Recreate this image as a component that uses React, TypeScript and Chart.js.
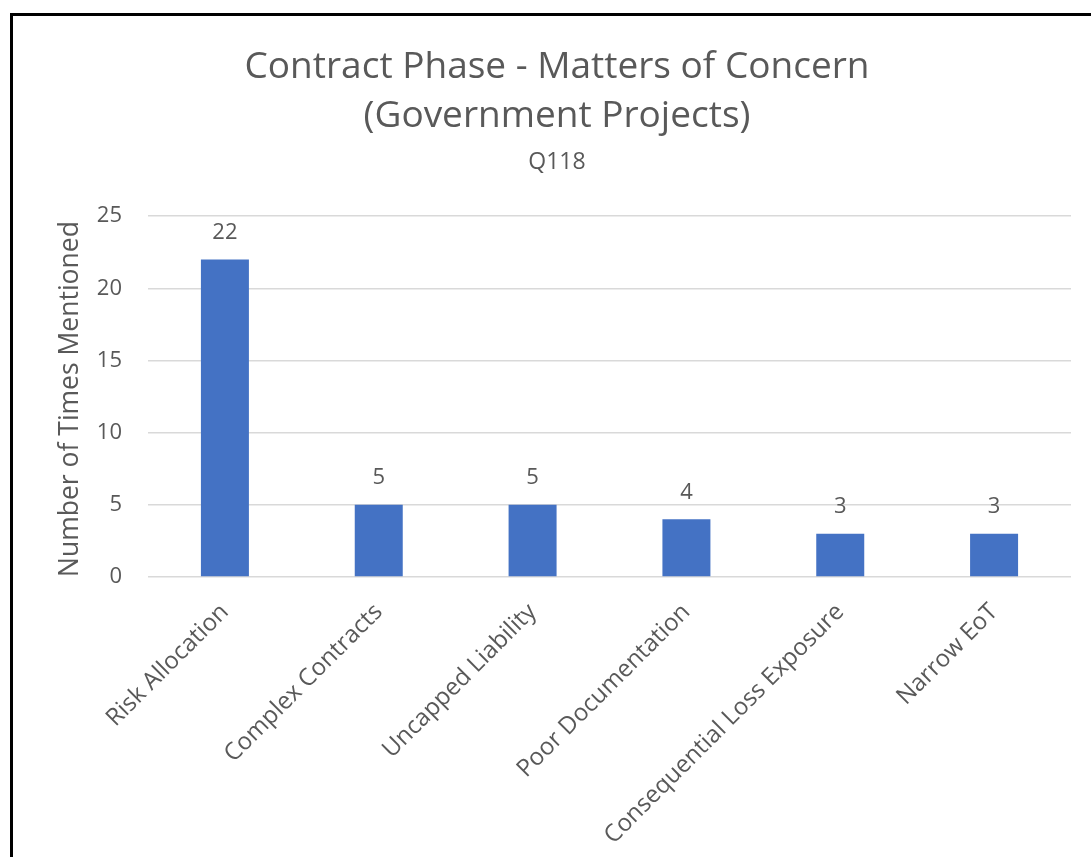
import React, { useEffect, useRef } from "react";
import { Chart, registerables } from "chart.js";

Chart.register(...registerables);

const categories = [
  "Risk Allocation",
  "Complex Contracts",
  "Uncapped Liability",
  "Poor Documentation",
  "Consequential Loss Exposure",
  "Narrow EoT",
];
const mentions = [22, 5, 5, 4, 3, 3];
const titleLines = ["Contract Phase - Matters of Concern", "(Government Projects)"];
const subtitleText = "Q118";
const yAxisTitle = "Number of Times Mentioned";
const yMin = 0;
const yMax = 25;
const yStep = 5;

const FONT = "'Open Sans', sans-serif";
const TEXT = "#595959";
const BAR = "#4472C4";
const GRID = "#D9D9D9";
const CANVAS_W = 1114;
const CANVAS_H = 857;

export default function App() {
  const ref = useRef<HTMLCanvasElement | null>(null);

  useEffect(() => {
    if (!ref.current) return;
    const valueLabels = {
      id: "valueLabels",
      afterDatasetsDraw(chart: any) {
        const ctx = chart.ctx;
        const meta = chart.getDatasetMeta(0);
        ctx.save();
        ctx.font = `22px ${FONT}`;
        ctx.fillStyle = TEXT;
        ctx.textAlign = "center";
        ctx.textBaseline = "middle";
        meta.data.forEach((bar: any, i: number) => {
          ctx.fillText(String(mentions[i]), bar.x, bar.y - 27);
        });
        ctx.restore();
      },
    };

    const chart = new Chart(ref.current, {
      type: "bar",
      data: {
        labels: categories,
        datasets: [
          {
            data: mentions,
            backgroundColor: BAR,
            barPercentage: 0.312,
            categoryPercentage: 1,
            yAxisID: "y",
          },
        ],
      },
      options: {
        animation: false,
        responsive: false,
        layout: { padding: { left: 0, right: 0, top: 42.5, bottom: 0 } },
        plugins: {
          legend: { display: false },
          tooltip: { enabled: false },
          title: {
            display: true,
            text: titleLines,
            color: TEXT,
            font: { family: FONT, size: 37, weight: "normal", lineHeight: 1.324 },
            padding: { top: 0, bottom: 8 },
          },
          subtitle: {
            display: true,
            text: subtitleText,
            color: TEXT,
            font: { family: FONT, size: 23, weight: "normal", lineHeight: 1.2 },
            padding: { top: 0, bottom: 40 },
          },
        },
        scales: {
          x: {
            grid: { display: false, drawTicks: false },
            border: { display: false },
            ticks: {
              autoSkip: false,
              maxRotation: 45,
              minRotation: 45,
              color: TEXT,
              font: { family: FONT, size: 24 },
              padding: 21,
            },
            afterFit(s: any) {
              s.height = 280;
            },
          },
          y: {
            position: "left",
            min: yMin,
            max: yMax,
            ticks: {
              stepSize: yStep,
              padding: 26,
              color: TEXT,
              font: { family: FONT, size: 22 },
            },
            grid: { color: GRID, lineWidth: 1.5, drawTicks: false },
            border: { display: false },
            title: {
              display: true,
              text: yAxisTitle,
              align: "start",
              color: TEXT,
              font: { family: FONT, size: 26.5, weight: "normal", lineHeight: 1.2 },
              padding: { top: 55, bottom: 0 },
            },
            afterFit(s: any) {
              s.width = 148;
            },
          },
          yRight: {
            type: "linear",
            position: "right",
            display: true,
            grid: { display: false, drawTicks: false },
            border: { display: false },
            ticks: { display: false },
            afterFit(s: any) {
              s.width = CANVAS_W - 1071;
            },
          },
        },
      },
      plugins: [valueLabels],
    });

    return () => chart.destroy();
  }, []);

  return (
    <div
      style={{
        position: "fixed",
        left: 0,
        top: 0,
        width: 1091,
        height: 857,
        background: "#ffffff",
        overflow: "hidden",
      }}
    >
      <div
        style={{
          position: "absolute",
          left: 10,
          top: 13,
          width: 1081,
          height: 844,
          borderTop: "3px solid #000",
          borderLeft: "3px solid #000",
          boxSizing: "border-box",
        }}
      />
      <canvas
        ref={ref}
        width={CANVAS_W}
        height={CANVAS_H}
        style={{ position: "absolute", left: 0, top: 0, width: CANVAS_W, height: CANVAS_H }}
      />
    </div>
  );
}
